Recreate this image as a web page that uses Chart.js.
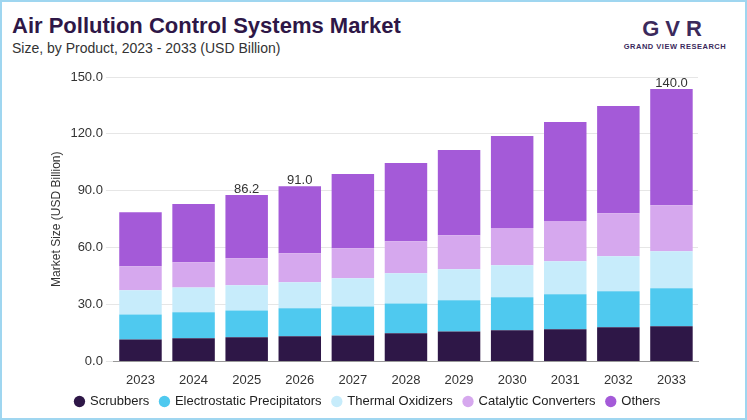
<!DOCTYPE html>
<html><head><meta charset="utf-8">
<script src="https://cdn.jsdelivr.net/npm/chart.js@4"></script>
<style>
body{margin:0;width:747px;height:420px;overflow:hidden;font-family:"Liberation Sans",Arial,sans-serif;}
#frame{position:absolute;left:0;top:0;width:743px;height:416px;border:2px solid #9fd6f0;background:#fff;}
#t1{position:absolute;left:12px;top:13px;font-size:22px;font-weight:bold;color:#2e1747;}
#t2{position:absolute;left:12px;top:40px;font-size:14px;color:#333;}
#logo{position:absolute;left:620px;top:16px;width:110px;text-align:center;}
#logo .m{font-size:22px;font-weight:bold;color:#3b2a5c;letter-spacing:6px;}
#logo .s{font-size:7.5px;font-weight:bold;color:#3b2a5c;letter-spacing:0.5px;}
#wrap{position:absolute;left:45px;top:62px;width:663px;height:356px;}
</style></head><body>
<div id="frame"></div>
<div id="t1">Air Pollution Control Systems Market</div>
<div id="t2">Size, by Product, 2023 - 2033 (USD Billion)</div>
<div id="logo"><div class="m">GVR</div><div class="s">GRAND VIEW RESEARCH</div></div>
<div id="wrap"><canvas id="c"></canvas></div>
<script>
const years=['2023','2024','2025','2026','2027','2028','2029','2030','2031','2032','2033'];
const scrubbers=[11.6,12.2,12.7,13.2,13.7,14.8,15.8,16.4,16.9,18.0,18.5];
const electro=[13.2,13.7,14.2,14.8,15.3,15.8,16.4,17.4,18.5,19.0,20.1];
const thermal=[12.7,13.1,13.2,13.7,14.8,15.9,16.4,16.9,17.4,18.5,19.5];
const catalytic=[12.7,13.3,14.3,15.3,15.9,16.9,18.0,19.6,21.2,22.7,24.3];
const others=[28.5,30.7,33.3,35.4,39.1,41.2,44.9,48.6,52.3,56.5,61.3];
const topLabels={2:'86.2',3:'91.0',10:'140.0'};
const labelPlugin={id:'tl',afterDatasetsDraw(ch){const ctx=ch.ctx;const meta=ch.getDatasetMeta(4);
ctx.save();ctx.font='13px "Liberation Sans",Arial';ctx.fillStyle='#333';ctx.textAlign='center';
for(const i in topLabels){const b=meta.data[i];ctx.fillText(topLabels[i],b.x,b.y-6);}ctx.restore();}};
const mk=(l,d,c)=>({label:l,data:d,backgroundColor:c,barPercentage:0.8,categoryPercentage:1});
new Chart(document.getElementById('c'),{type:'bar',
data:{labels:years,datasets:[mk('Scrubbers',scrubbers,'#2e1747'),mk('Electrostatic Precipitators',electro,'#4fc9ef'),mk('Thermal Oxidizers',thermal,'#c7ecfb'),mk('Catalytic Converters',catalytic,'#d6a8ee'),mk('Others',others,'#a45ad8')]},
options:{responsive:true,maintainAspectRatio:false,animation:false,
layout:{padding:{top:15,right:10}},
plugins:{legend:{position:'bottom',labels:{usePointStyle:true,pointStyle:'circle',boxWidth:8,boxHeight:8,padding:4,color:'#222',font:{size:13,family:'"Liberation Sans",Arial'},
generateLabels(ch){return Chart.defaults.plugins.legend.labels.generateLabels(ch).map(l=>({...l,text:l.text+'  '}));}}},tooltip:{enabled:false}},
scales:{x:{stacked:true,grid:{display:false},border:{color:'#999'},ticks:{color:'#333',font:{size:13}}},
y:{stacked:true,min:0,max:150,ticks:{stepSize:30,color:'#333',font:{size:13},callback:v=>v.toFixed(1)},grid:{color:'#e6e6e6'},border:{display:false},
title:{display:true,text:'Market Size (USD Billion)',color:'#333',font:{size:12}}}}},
plugins:[labelPlugin]});
</script></body></html>
